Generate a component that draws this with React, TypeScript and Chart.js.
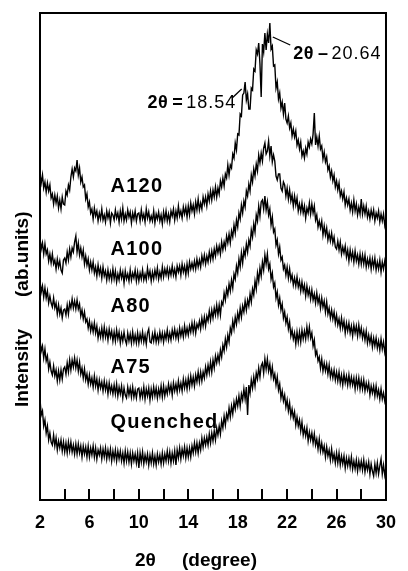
import React, { useEffect, useRef } from "react";
import { Chart, registerables } from "chart.js";

Chart.register(...registerables);

// 2θ sampling grid (degrees), 0.1° steps from 2 to 30
const twoTheta: number[] = [];
for (let i = 0; i <= 280; i++) twoTheta.push(Math.round((2 + i * 0.1) * 10) / 10);

// Offset intensities (arbitrary units), one value per 0.1°
const A120: number[] = [
  326, 317, 325, 312, 318, 308, 317, 309, 315, 302, 306, 296, 305, 297, 304, 292, 300, 291, 303, 296,
  295, 309, 305, 315, 310, 323, 331, 323, 332, 329, 340, 325, 332, 318, 323, 313, 315, 301, 306, 293,
  298, 287, 291, 281, 292, 284, 289, 279, 287, 281, 291, 280, 285, 278, 289, 282, 288, 277, 287, 285,
  280, 290, 282, 287, 278, 289, 281, 292, 279, 286, 280, 290, 283, 288, 277, 287, 281, 289, 279, 286,
  287, 279, 290, 281, 286, 278, 291, 282, 288, 279, 284, 279, 289, 277, 286, 281, 288, 279, 285, 276,
  288, 280, 289, 279, 286, 278, 289, 284, 291, 280, 289, 282, 294, 284, 289, 282, 293, 286, 293, 283,
  294, 285, 297, 289, 295, 286, 298, 290, 301, 290, 297, 291, 303, 296, 303, 294, 306, 299, 309, 300,
  310, 303, 313, 303, 312, 306, 319, 313, 322, 314, 326, 322, 335, 325, 335, 332, 346, 342, 357, 350,
  366, 365, 386, 384, 405, 407, 418, 400, 406, 391, 391, 412, 410, 431, 429, 450, 446, 457, 436, 403,
  456, 448, 467, 450, 466, 457, 477, 451, 454, 434, 435, 412, 418, 401, 407, 392, 398, 386, 397, 381,
  377, 384, 372, 377, 364, 371, 363, 369, 355, 360, 351, 358, 344, 349, 342, 352, 346, 358, 353, 361,
  356, 366, 387, 355, 363, 354, 364, 351, 354, 341, 348, 338, 343, 330, 334, 323, 329, 319, 325, 313,
  319, 310, 317, 304, 309, 301, 308, 295, 302, 295, 301, 290, 297, 288, 300, 289, 296, 285, 293, 286,
  301, 286, 294, 286, 294, 283, 289, 281, 290, 283, 290, 279, 287, 282, 289, 278, 286, 279, 286, 275,
  282,
];

const A100: number[] = [
  262, 251, 257, 246, 256, 246, 250, 239, 246, 237, 246, 236, 240, 231, 241, 233, 239, 230, 227, 240,
  242, 237, 248, 240, 251, 243, 252, 248, 258, 264, 248, 257, 245, 252, 243, 250, 236, 244, 235, 241,
  230, 238, 230, 238, 227, 233, 224, 235, 226, 232, 222, 233, 224, 229, 220, 230, 221, 228, 220, 231,
  221, 229, 218, 226, 220, 230, 222, 228, 217, 229, 221, 226, 219, 230, 220, 227, 222, 230, 219, 228,
  219, 227, 221, 230, 220, 226, 220, 232, 223, 229, 219, 228, 221, 230, 223, 232, 221, 228, 222, 233,
  223, 231, 225, 232, 223, 231, 225, 234, 225, 231, 223, 234, 228, 234, 225, 236, 228, 234, 225, 236,
  227, 238, 231, 237, 231, 239, 231, 241, 233, 240, 233, 244, 237, 245, 236, 244, 238, 248, 240, 249,
  241, 251, 244, 254, 247, 254, 246, 258, 250, 258, 252, 264, 257, 266, 257, 269, 263, 275, 267, 280,
  273, 287, 281, 295, 287, 299, 293, 309, 304, 316, 309, 325, 318, 331, 324, 336, 329, 345, 337, 347,
  339, 352, 357, 346, 349, 359, 344, 354, 338, 345, 339, 324, 320, 326, 326, 312, 309, 318, 315, 304,
  312, 301, 310, 299, 305, 294, 304, 295, 302, 289, 296, 288, 297, 287, 294, 282, 292, 287, 297, 286,
  296, 287, 294, 280, 285, 273, 279, 272, 279, 265, 274, 265, 272, 260, 267, 259, 267, 257, 263, 253,
  251, 259, 250, 258, 246, 253, 247, 254, 243, 250, 239, 250, 241, 248, 238, 249, 239, 245, 236, 246,
  236, 245, 236, 245, 233, 241, 234, 242, 231, 241, 233, 242, 230, 238, 231, 240, 228, 238, 231, 239,
  231,
];

const A80: number[] = [
  219, 208, 214, 203, 212, 202, 209, 197, 204, 197, 193, 202, 192, 197, 186, 195, 186, 192, 182, 190,
  191, 185, 195, 186, 197, 192, 201, 192, 199, 191, 200, 191, 196, 184, 190, 181, 188, 178, 181, 172,
  179, 169, 176, 168, 177, 167, 174, 162, 170, 163, 172, 162, 173, 163, 170, 160, 171, 163, 169, 159,
  168, 159, 170, 161, 168, 157, 166, 159, 168, 160, 156, 167, 159, 166, 157, 168, 158, 165, 157, 167,
  157, 166, 159, 168, 158, 165, 156, 167, 171, 158, 157, 166, 159, 168, 158, 165, 158, 168, 160, 167,
  158, 167, 161, 170, 160, 167, 160, 170, 163, 171, 162, 169, 161, 172, 164, 171, 163, 174, 165, 172,
  165, 174, 168, 177, 168, 177, 167, 176, 172, 179, 171, 182, 174, 183, 174, 184, 179, 189, 180, 190,
  182, 192, 185, 195, 185, 195, 185, 198, 195, 207, 200, 211, 205, 216, 209, 220, 212, 226, 221, 234,
  227, 241, 233, 247, 237, 250, 244, 256, 248, 260, 254, 270, 263, 276, 268, 285, 279, 294, 284, 298,
  300, 291, 304, 290, 298, 285, 291, 275, 283, 268, 271, 255, 260, 246, 253, 240, 243, 231, 235, 225,
  233, 222, 231, 220, 225, 215, 222, 214, 223, 213, 219, 209, 218, 209, 215, 204, 214, 205, 211, 201,
  210, 200, 206, 197, 207, 197, 203, 192, 202, 193, 199, 188, 198, 186, 192, 182, 190, 181, 188, 177,
  185, 175, 181, 172, 182, 172, 179, 167, 177, 169, 177, 167, 174, 164, 175, 167, 174, 164, 175, 165,
  172, 162, 169, 160, 169, 157, 165, 157, 164, 153, 162, 154, 162, 152, 159, 150, 161, 151, 158, 148,
  156,
];

const A75: number[] = [
  160, 149, 154, 142, 151, 139, 144, 131, 138, 129, 125, 134, 124, 130, 119, 129, 120, 130, 121, 131,
  133, 126, 137, 128, 140, 130, 140, 133, 142, 132, 140, 129, 138, 126, 132, 122, 131, 120, 126, 116,
  125, 116, 122, 113, 124, 114, 121, 110, 120, 112, 118, 109, 119, 110, 117, 106, 117, 108, 114, 106,
  115, 106, 116, 104, 113, 106, 114, 102, 112, 105, 102, 113, 105, 112, 103, 113, 103, 110, 102, 111,
  112, 102, 110, 103, 113, 101, 111, 104, 112, 100, 111, 103, 113, 104, 112, 102, 111, 104, 114, 103,
  114, 104, 112, 106, 116, 108, 115, 105, 117, 109, 116, 108, 119, 110, 117, 109, 121, 112, 120, 111,
  122, 113, 124, 115, 123, 114, 125, 118, 128, 118, 128, 119, 128, 122, 133, 125, 135, 127, 138, 128,
  140, 132, 144, 137, 145, 138, 150, 143, 155, 149, 161, 153, 165, 158, 172, 167, 179, 171, 183, 176,
  187, 180, 192, 183, 194, 188, 199, 190, 200, 194, 206, 198, 211, 205, 219, 211, 227, 219, 232, 224,
  238, 230, 245, 236, 246, 231, 236, 221, 227, 213, 217, 202, 208, 195, 202, 190, 196, 182, 188, 177,
  183, 171, 178, 164, 170, 161, 167, 156, 168, 158, 168, 158, 170, 161, 169, 161, 173, 163, 173, 162,
  167, 154, 160, 145, 149, 139, 143, 132, 141, 129, 137, 129, 136, 126, 135, 123, 130, 122, 130, 120,
  128, 119, 128, 117, 125, 115, 126, 117, 124, 115, 125, 115, 123, 115, 122, 111, 122, 113, 122, 111,
  120, 111, 120, 109, 117, 110, 117, 105, 114, 107, 114, 104, 114, 104, 110, 101, 111, 101, 107, 99,
  106,
];

const Quenched: number[] = [
  101, 85, 89, 74, 80, 67, 74, 60, 67, 58, 55, 65, 54, 62, 50, 59, 52, 60, 49, 58,
  48, 57, 47, 58, 49, 58, 48, 55, 46, 56, 46, 56, 47, 54, 43, 54, 46, 53, 43, 54,
  43, 52, 45, 54, 43, 52, 41, 50, 45, 52, 41, 51, 43, 52, 41, 50, 42, 51, 39, 49,
  41, 50, 39, 49, 41, 49, 39, 47, 37, 49, 39, 48, 38, 47, 36, 47, 39, 46, 37, 47,
  32, 47, 38, 48, 36, 45, 38, 46, 35, 45, 37, 47, 36, 44, 35, 46, 38, 45, 36, 47,
  37, 46, 39, 49, 39, 48, 37, 47, 39, 49, 35, 50, 42, 52, 41, 51, 44, 53, 42, 52,
  43, 52, 43, 54, 47, 57, 48, 57, 47, 57, 50, 62, 53, 62, 55, 63, 55, 66, 57, 67,
  59, 69, 60, 72, 65, 74, 66, 79, 72, 84, 75, 86, 81, 92, 83, 94, 86, 98, 91, 101,
  94, 104, 94, 106, 100, 111, 101, 113, 85, 115, 107, 120, 112, 123, 114, 127, 121, 132, 123, 134,
  137, 127, 141, 131, 141, 129, 136, 124, 133, 121, 126, 115, 123, 110, 116, 102, 109, 99, 105, 93,
  100, 89, 97, 84, 91, 82, 88, 75, 83, 74, 80, 69, 78, 65, 72, 64, 72, 59, 68, 60,
  67, 57, 66, 55, 61, 51, 61, 49, 57, 48, 54, 43, 53, 44, 50, 40, 51, 40, 46, 37,
  47, 37, 47, 35, 44, 36, 44, 32, 42, 34, 42, 33, 43, 31, 39, 31, 40, 29, 39, 31,
  39, 30, 40, 28, 37, 30, 38, 26, 36, 29, 24, 36, 27, 37, 26, 34, 41, 26, 35, 25,
  33,
];

const seriesNames: string[] = ["A120", "A100", "A80", "A75", "Quenched"];
const seriesValues: number[][] = [A120, A100, A80, A75, Quenched];

// sample-name label anchors (2θ, intensity level)
const nameTheta = 7.7;
const nameLevels: number[] = [308, 245, 188, 127, 72];

// x tick values
const tickValues: number[] = [4, 6, 8, 10, 12, 14, 16, 18, 20, 22, 24, 26, 28];

// peak annotations
const peakLabels = [
  { bold: "2θ", sep: "=", num: "18.54", textTheta: 10.7, textLevel: 392, from: [18.32, 411], to: [17.55, 402] },
  { bold: "2θ", sep: "–", num: "20.64", textTheta: 22.49, textLevel: 441, from: [20.84, 463], to: [22.25, 455] },
];

const FAMILY = '"Liberation Sans", Arial, Helvetica, sans-serif';

const overlay = {
  id: "overlay",
  afterDraw(chart: any) {
    const { ctx, chartArea: a, scales } = chart;
    const xs = scales.x;
    const ys = scales.y;
    ctx.save();
    ctx.strokeStyle = "#000";
    ctx.fillStyle = "#000";

    // frame
    ctx.lineWidth = 2;
    ctx.strokeRect(a.left, a.top, a.right - a.left, a.bottom - a.top);

    // inward ticks
    for (const v of tickValues) {
      const px = Math.round(xs.getPixelForValue(v));
      ctx.beginPath();
      ctx.moveTo(px, a.bottom);
      ctx.lineTo(px, a.bottom - 11);
      ctx.stroke();
    }

    // sample names
    ctx.font = `bold 20px ${FAMILY}`;
    (ctx as any).letterSpacing = "1.3px";
    ctx.textAlign = "left";
    ctx.textBaseline = "alphabetic";
    seriesNames.forEach((name, i) => {
      ctx.fillText(name, xs.getPixelForValue(nameTheta), ys.getPixelForValue(nameLevels[i]));
    });

    // peak annotations
    for (const p of peakLabels) {
      let x = xs.getPixelForValue(p.textTheta);
      const y = ys.getPixelForValue(p.textLevel);
      (ctx as any).letterSpacing = "0.5px";
      ctx.font = `bold 18px ${FAMILY}`;
      ctx.fillText(p.bold, x, y);
      x += ctx.measureText(p.bold).width + 4;
      ctx.fillText(p.sep, x, y);
      x += ctx.measureText(p.sep).width + 3;
      (ctx as any).letterSpacing = "1px";
      ctx.font = `18px ${FAMILY}`;
      ctx.fillText(p.num, x, y);
      ctx.lineWidth = 1.3;
      ctx.beginPath();
      ctx.moveTo(xs.getPixelForValue(p.from[0]), ys.getPixelForValue(p.from[1]));
      ctx.lineTo(xs.getPixelForValue(p.to[0]), ys.getPixelForValue(p.to[1]));
      ctx.stroke();
    }
    (ctx as any).letterSpacing = "0px";

    // x axis title
    const cx = (a.left + a.right) / 2;
    ctx.font = `bold 19px ${FAMILY}`;
    ctx.fillText("2θ", cx - 78, 566);
    ctx.fillText("(degree)", cx - 31, 566);

    // y axis title (rotated)
    ctx.save();
    ctx.translate(a.left - 12, 407);
    ctx.rotate(-Math.PI / 2);
    ctx.fillText("Intensity", 0, 0);
    ctx.fillText("(ab.units)", 110, 0);
    ctx.restore();

    ctx.restore();
  },
};

export default function App() {
  const ref = useRef<HTMLCanvasElement | null>(null);

  useEffect(() => {
    document.body.style.margin = "0";
    const canvas = ref.current;
    if (!canvas) return;
    const chart = new Chart(canvas, {
      type: "line",
      data: {
        datasets: seriesValues.map((vals, i) => ({
          label: seriesNames[i],
          data: vals.map((v, j) => ({ x: twoTheta[j], y: v })),
          borderColor: "#000",
          borderWidth: 1.4,
          pointRadius: 0,
          tension: 0,
          fill: false,
        })),
      },
      options: {
        animation: false,
        responsive: false,
        devicePixelRatio: 1,
        layout: { padding: { left: 40, right: 12.4, top: 13, bottom: 25.4 } },
        plugins: {
          legend: { display: false },
          tooltip: { enabled: false },
          title: { display: false },
        },
        scales: {
          x: {
            type: "linear",
            min: 2,
            max: 30,
            grid: { display: false, drawTicks: false },
            border: { display: false },
            ticks: {
              stepSize: 2,
              autoSkip: false,
              maxRotation: 0,
              padding: 12,
              color: "#000",
              font: { family: FAMILY, size: 18, weight: "bold", lineHeight: 1.2 },
              callback: (v: any) => ((Number(v) - 2) % 4 === 0 ? String(v) : ""),
            },
          },
          y: {
            display: false,
            min: 0,
            max: 487,
          },
        },
      },
      plugins: [overlay],
    } as any);
    return () => chart.destroy();
  }, []);

  return (
    <div style={{ width: 408, height: 571, background: "#fff" }}>
      <canvas ref={ref} width={408} height={571} style={{ display: "block" }} />
    </div>
  );
}
